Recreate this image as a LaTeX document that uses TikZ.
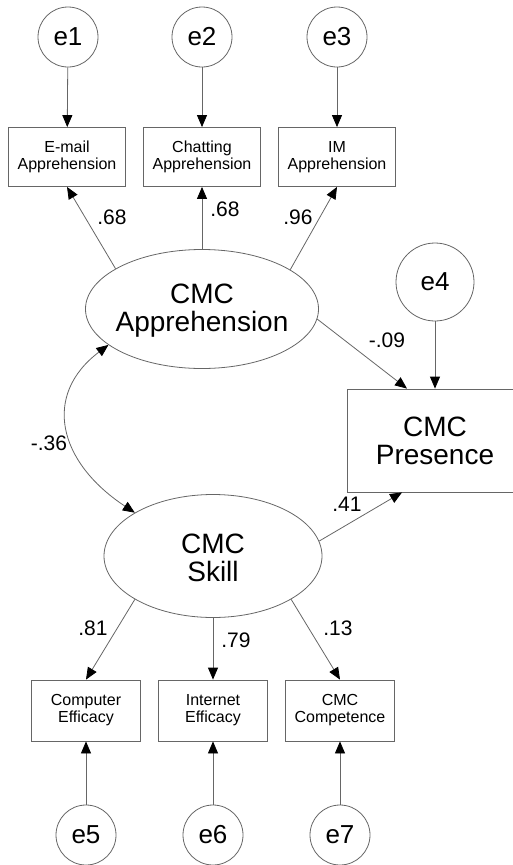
\documentclass[tikz,border=0pt]{standalone}
\usepackage{fontspec}
\setmainfont{Liberation Sans}
\usetikzlibrary{shapes.geometric,arrows.meta}
\definecolor{linegray}{HTML}{666666}

\begin{document}
\begin{tikzpicture}[x=1pt,y=-1pt,line width=0.8pt,
	every node/.style={align=center,inner sep=0pt},
	errnode/.style={draw=linegray,circle,minimum size=60pt,font=\fontsize{26}{26}\selectfont},
	obsbox/.style={draw=linegray,rectangle,font=\fontsize{16}{17}\selectfont},
	latent/.style={draw=linegray,ellipse},
	bigtext/.style={font=\fontsize{28}{28}\selectfont},
	coef/.style={font=\fontsize{21}{21}\selectfont},
	arrowline/.style={draw=linegray,-{Triangle[length=12pt,width=10pt,color=black]}},
	twoway/.style={draw=linegray,{Triangle[length=12pt,width=10pt,color=black]}-{Triangle[length=12pt,width=10pt,color=black]}}]
	\useasboundingbox (0,0) rectangle (513,865);
	% error terms, top row
	\node[errnode] (e1) at (68,37) {e1};
	\node[errnode] (e2) at (202,37) {e2};
	\node[errnode] (e3) at (337,37) {e3};
	% apprehension indicators
	\node[obsbox,minimum width=117pt,minimum height=59pt] (emailapp) at (67,157) {E-mail\\Apprehension};
	\node[obsbox,minimum width=117pt,minimum height=59pt] (chatapp) at (202,157) {Chatting\\Apprehension};
	\node[obsbox,minimum width=117pt,minimum height=59pt] (imapp) at (337,157) {IM\\Apprehension};
	% latent variables
	\node[latent,minimum width=233pt,minimum height=119pt] (cmcapp) at (202,309) {};
	\node[bigtext] (cmcapptext) at (202,311) {CMC\\Apprehension};
	\node[latent,minimum width=218pt,minimum height=123pt] (cmcskill) at (213,556) {};
	\node[bigtext] (cmcskilltext) at (213,558) {CMC\\Skill};
	% outcome
	\node[errnode,minimum size=78pt] (e4) at (435,282) {e4};
	\node[obsbox,bigtext,minimum width=176pt,minimum height=103pt] (cmcpres) at (435,440.5) {CMC\\Presence};
	% skill indicators
	\node[obsbox,minimum width=109pt,minimum height=61pt] (compeff) at (86,710.5) {Computer\\Efficacy};
	\node[obsbox,minimum width=109pt,minimum height=61pt] (neteff) at (213,710.5) {Internet\\Efficacy};
	\node[obsbox,minimum width=109pt,minimum height=61pt] (cmccomp) at (340,710.5) {CMC\\Competence};
	% error terms, bottom row
	\node[errnode] (e5) at (86,835) {e5};
	\node[errnode] (e6) at (213,835) {e6};
	\node[errnode] (e7) at (340,835) {e7};

	\draw[arrowline] (e1) -- (emailapp);
	\draw[arrowline] (e2) -- (chatapp);
	\draw[arrowline] (e3) -- (imapp);
	\draw[arrowline] (cmcapp.155) -- (emailapp.south);
	\draw[arrowline] (cmcapp.north) -- (chatapp.south);
	\draw[arrowline] (cmcapp.24) -- (imapp.south);
	\draw[arrowline] (cmcapp.-5) -- ([xshift=-28pt]cmcpres.north);
	\draw[arrowline] (e4) -- (cmcpres.north);
	\draw[arrowline] (cmcskill.8) -- ([xshift=-33pt]cmcpres.south);
	\draw[twoway] (cmcapp.201) .. controls (42,395) and (58,462) .. (cmcskill.151);
	\draw[arrowline] (cmcskill.209) -- (compeff.north);
	\draw[arrowline] (cmcskill.south) -- (neteff.north);
	\draw[arrowline] (cmcskill.331) -- (cmccomp.north);
	\draw[arrowline] (e5) -- (compeff);
	\draw[arrowline] (e6) -- (neteff);
	\draw[arrowline] (e7) -- (cmccomp);

	% coefficients
	\node[coef] (lemail) at (112,217) {.68};
	\node[coef] (lchat) at (225,209) {.68};
	\node[coef] (lim) at (298,217) {.96};
	\node[coef] (lpresa) at (387,340) {-.09};
	\node[coef] (lcorr) at (49,443) {-.36};
	\node[coef] (lpress) at (347,504) {.41};
	\node[coef] (lcomp) at (93,628) {.81};
	\node[coef] (lnet) at (236,640) {.79};
	\node[coef] (lcmc) at (338,628) {.13};
\end{tikzpicture}
\end{document}
